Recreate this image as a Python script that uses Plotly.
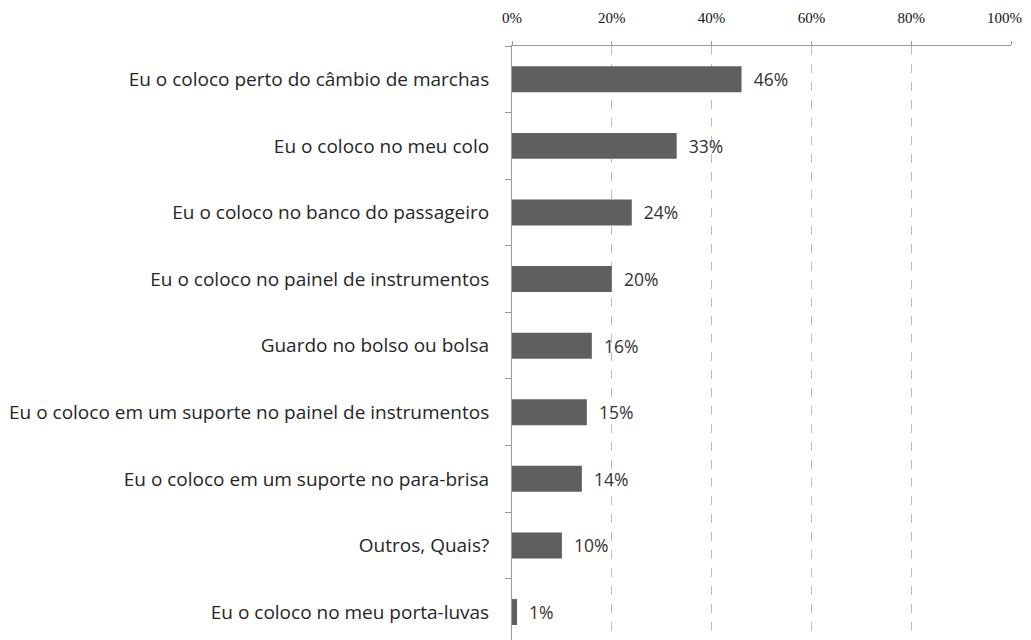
import plotly.graph_objects as go

categories = [
    "Eu o coloco perto do câmbio de marchas",
    "Eu o coloco no meu colo",
    "Eu o coloco no banco do passageiro",
    "Eu o coloco no painel de instrumentos",
    "Guardo no bolso ou bolsa",
    "Eu o coloco em um suporte no painel de instrumentos",
    "Eu o coloco em um suporte no para-brisa",
    "Outros, Quais?",
    "Eu o coloco no meu porta-luvas",
]
values = [0.46, 0.33, 0.24, 0.20, 0.16, 0.15, 0.14, 0.10, 0.01]
value_labels = ["46%", "33%", "24%", "20%", "16%", "15%", "14%", "10%", "1%"]
tick_vals = [0, 0.2, 0.4, 0.6, 0.8, 1.0]
tick_text = ["0%", "20%", "40%", "60%", "80%", "100%"]

tick_font = dict(family="Liberation Serif", size=15, color="#111111")

# the last tick label is drawn right-aligned so it stays inside the page
shown_ticks = tick_text[:-1] + [""]

fig = go.Figure(
    go.Bar(
        x=values,
        y=categories,
        orientation="h",
        width=0.39,
        marker=dict(color="#5f5f5f", line=dict(width=0)),
        text=["  " + t for t in value_labels],
        textposition="outside",
        cliponaxis=False,
        textfont=dict(family="Open Sans", size=17.5, color="#333333"),
    )
)

fig.add_annotation(
    x=tick_vals[-1],
    xref="x",
    y=1,
    yref="paper",
    text=tick_text[-1],
    showarrow=False,
    xanchor="right",
    yanchor="middle",
    xshift=12,
    yshift=28,
    borderpad=0,
    font=tick_font,
)

# page body has an 8px margin, so the figure is sized/offset to compensate
fig.update_layout(
    width=1015,
    height=632,
    margin=dict(l=504, r=12, t=38, b=0),
    paper_bgcolor="white",
    plot_bgcolor="white",
    showlegend=False,
)

fig.update_xaxes(
    side="top",
    range=[0, 1.0],
    tickvals=tick_vals,
    ticktext=shown_ticks,
    tickfont=tick_font,
    showgrid=True,
    gridcolor="#bdbdbd",
    griddash="dash",
    gridwidth=1,
    showline=True,
    linecolor="#9a9a9a",
    linewidth=1,
    ticks="outside",
    ticklen=4,
    tickcolor="#9a9a9a",
    zeroline=False,
    automargin=False,
    ticklabelstandoff=12,
)

fig.update_yaxes(
    categoryorder="array",
    categoryarray=categories,
    range=[8.42, -0.5],
    tickson="boundaries",
    ticks="outside",
    ticklen=6,
    tickcolor="#9a9a9a",
    showline=True,
    linecolor="#9a9a9a",
    linewidth=1,
    showgrid=False,
    tickfont=dict(family="Open Sans", size=19, color="#262626"),
    ticklabelstandoff=18,
    automargin=False,
)

fig.write_html("out.html")
